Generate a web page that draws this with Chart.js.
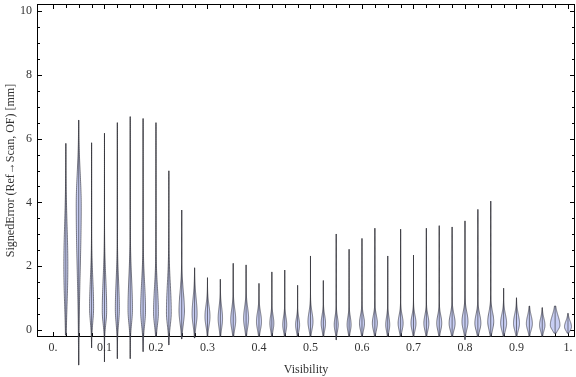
<!DOCTYPE html>
<html>
<head>
<meta charset="utf-8">
<script src="https://cdn.jsdelivr.net/npm/chart.js@4"></script>
<style>
  html, body { margin: 0; padding: 0; background: #fff; }
  #wrap { width: 576px; height: 377px; }
</style>
</head>
<body>
<div id="wrap"><canvas id="myChart"></canvas></div>
<script>
// one violin per visibility bin
const visibility = [0.025, 0.05, 0.075, 0.1, 0.125, 0.15, 0.175, 0.2, 0.225, 0.25,
  0.275, 0.3, 0.325, 0.35, 0.375, 0.4, 0.425, 0.45, 0.475, 0.5,
  0.525, 0.55, 0.575, 0.6, 0.625, 0.65, 0.675, 0.7, 0.725, 0.75,
  0.775, 0.8, 0.825, 0.85, 0.875, 0.9, 0.925, 0.95, 0.975, 1.0];
const maxErr = [5.85, 6.58, 5.87, 6.17, 6.5, 6.69, 6.63, 6.5, 4.99, 3.76,
  1.95, 1.64, 1.59, 2.09, 2.04, 1.46, 1.82, 1.88, 1.4, 2.32,
  1.55, 3.01, 2.53, 2.87, 3.19, 2.32, 3.16, 2.35, 3.19, 3.27,
  3.23, 3.42, 3.78, 4.04, 1.31, 1.01, 0.75, 0.7, 0.75, 0.52];
const minErr = [-0.16, -1.1, -0.56, -1.0, -0.9, -0.9, -0.68, -0.2, -0.47, -0.28,
  -0.25, -0.2, -0.2, -0.2, -0.2, -0.2, -0.2, -0.2, -0.2, -0.2,
  -0.2, -0.31, -0.2, -0.2, -0.2, -0.2, -0.2, -0.2, -0.2, -0.2,
  -0.2, -0.3, -0.2, -0.2, -0.2, -0.2, -0.2, -0.2, -0.1, -0.1];
const modeErr = [2.0, 3.9, 0.7, 0.6, 0.65, 0.65, 0.6, 0.55, 0.55, 0.6,
  0.5, 0.42, 0.36, 0.31, 0.36, 0.26, 0.21, 0.16, 0.16, 0.26,
  0.21, 0.16, 0.16, 0.21, 0.21, 0.16, 0.21, 0.21, 0.21, 0.21,
  0.21, 0.26, 0.21, 0.26, 0.21, 0.21, 0.2, 0.15, 0.15, 0.1];
const spreadUp = [1.3, 1.0, 0.9, 1.0, 0.9, 1.0, 0.9, 0.8, 0.9, 0.6,
  0.5, 0.35, 0.35, 0.35, 0.35, 0.3, 0.25, 0.25, 0.22, 0.3,
  0.25, 0.25, 0.25, 0.25, 0.25, 0.25, 0.25, 0.25, 0.25, 0.25,
  0.28, 0.3, 0.28, 0.3, 0.28, 0.28, 0.25, 0.22, 0.3, 0.18];
const spreadDown = [1.2, 2.0, 0.45, 0.4, 0.45, 0.45, 0.45, 0.4, 0.4, 0.4,
  0.35, 0.3, 0.3, 0.28, 0.3, 0.25, 0.22, 0.2, 0.2, 0.25,
  0.22, 0.2, 0.2, 0.22, 0.22, 0.2, 0.22, 0.22, 0.22, 0.22,
  0.22, 0.25, 0.22, 0.25, 0.22, 0.22, 0.2, 0.18, 0.15, 0.12];
const peakDensity = [2.0, 2.5, 2.0, 2.2, 2.0, 2.2, 2.4, 2.4, 2.4, 2.7,
  2.5, 2.5, 2.2, 2.5, 2.5, 2.5, 2.0, 2.0, 2.0, 2.5,
  2.2, 2.0, 2.0, 2.5, 2.5, 2.0, 2.5, 2.5, 2.5, 2.5,
  3.0, 3.0, 3.0, 3.0, 3.0, 3.0, 3.0, 2.7, 4.8, 3.5];

const yTicks = [0, 2, 4, 6, 8, 10];
const xTicks = [0, 0.1, 0.2, 0.3, 0.4, 0.5, 0.6, 0.7, 0.8, 0.9, 1.0];

const FONT = "'Liberation Serif', 'DejaVu Serif', serif";
const TEXT = '#333';

const framePlugin = {
  id: 'frame',
  beforeDatasetsDraw(chart) {
    const { ctx, chartArea: a, scales: { x, y } } = chart;
    ctx.save();
    ctx.strokeStyle = '#000';
    ctx.lineWidth = 1;
    ctx.strokeRect(a.left + 0.5, a.top + 0.5, a.right - a.left - 1, a.bottom - a.top - 1);
    ctx.beginPath();
    // y ticks, left and right, major every 2 and minor every 0.5
    for (let v = 0; v <= 10.001; v += 0.5) {
      const py = Math.round(y.getPixelForValue(v)) + 0.5;
      const len = Math.abs(v % 2) < 0.01 ? 5 : 3;
      ctx.moveTo(a.left, py); ctx.lineTo(a.left + len, py);
      ctx.moveTo(a.right, py); ctx.lineTo(a.right - len, py);
    }
    // x ticks, top and bottom, every 0.025
    for (let k = 0; k <= 40; k++) {
      const px = Math.round(x.getPixelForValue(k * 0.025)) + 0.5;
      const len = k % 4 === 0 ? 5 : 4;
      ctx.moveTo(px, a.top); ctx.lineTo(px, a.top + len);
      ctx.moveTo(px, a.bottom); ctx.lineTo(px, a.bottom - len);
    }
    ctx.stroke();
    ctx.restore();
  }
};

const violinPlugin = {
  id: 'violins',
  afterDatasetsDraw(chart) {
    const { ctx, scales: { x, y } } = chart;
    ctx.save();
    for (let i = 0; i < visibility.length; i++) {
      const px = x.getPixelForValue(visibility[i]);
      const lo = minErr[i], hi = maxErr[i], m = modeErr[i];
      const n = 120;
      const pts = [];
      for (let j = 0; j <= n; j++) {
        const v = lo + (hi - lo) * j / n;
        const s = v > m ? spreadUp[i] : spreadDown[i];
        const z = (v - m) / s;
        pts.push([y.getPixelForValue(v), peakDensity[i] * Math.exp(-0.5 * z * z)]);
      }
      ctx.beginPath();
      pts.forEach((p, j) => j ? ctx.lineTo(px + p[1], p[0]) : ctx.moveTo(px + p[1], p[0]));
      for (let j = pts.length - 1; j >= 0; j--) ctx.lineTo(px - pts[j][1], pts[j][0]);
      ctx.closePath();
      ctx.fillStyle = 'rgb(200, 206, 244)';
      ctx.fill();
      ctx.strokeStyle = 'rgba(50, 50, 60, 0.8)';
      ctx.lineWidth = 0.8;
      ctx.stroke();
      // thin range line
      ctx.beginPath();
      ctx.moveTo(px, y.getPixelForValue(lo));
      ctx.lineTo(px, y.getPixelForValue(hi));
      ctx.strokeStyle = 'rgba(40, 40, 45, 0.6)';
      ctx.lineWidth = 1;
      ctx.stroke();
    }
    ctx.restore();
  }
};

new Chart(document.getElementById('myChart'), {
  type: 'scatter',
  data: {
    datasets: [{
      label: 'SignedError',
      data: visibility.map((v, i) => ({ x: v, y: maxErr[i] })),
      pointRadius: 0,
      showLine: false
    }]
  },
  options: {
    responsive: true,
    maintainAspectRatio: false,
    animation: false,
    layout: { padding: { top: 4, right: 1, left: 0, bottom: 0 } },
    scales: {
      x: {
        type: 'linear',
        min: -0.031,
        max: 1.0136,
        afterBuildTicks: (s) => { s.ticks = xTicks.map(v => ({ value: v })); },
        afterFit: (s) => { s.height = 40; s.paddingLeft = 0; s.paddingRight = 0; },
        grid: { display: false, drawTicks: false },
        border: { display: false },
        ticks: {
          color: TEXT,
          padding: 4,
          maxRotation: 0,
          font: { family: FONT, size: 12 },
          callback: (v) => v === 0 ? '0.' : (v === 1 ? '1.' : v.toFixed(1))
        },
        title: {
          display: true,
          text: 'Visibility',
          color: TEXT,
          font: { family: FONT, size: 12 },
          padding: { top: 0, bottom: 0 }
        }
      },
      y: {
        min: -0.22,
        max: 10.22,
        afterBuildTicks: (s) => { s.ticks = yTicks.map(v => ({ value: v })); },
        afterFit: (s) => { s.width = 37; s.paddingTop = 0; s.paddingBottom = 0; },
        grid: { display: false, drawTicks: false },
        border: { display: false },
        ticks: {
          color: TEXT,
          padding: 5,
          font: { family: FONT, size: 12 }
        },
        title: {
          display: true,
          text: 'SignedError (Ref\u2192Scan, OF) [mm]',
          color: TEXT,
          font: { family: FONT, size: 12 },
          padding: { top: 4, bottom: 0 }
        }
      }
    },
    plugins: {
      legend: { display: false },
      tooltip: { enabled: false }
    }
  },
  plugins: [framePlugin, violinPlugin]
});
</script>
</body>
</html>
